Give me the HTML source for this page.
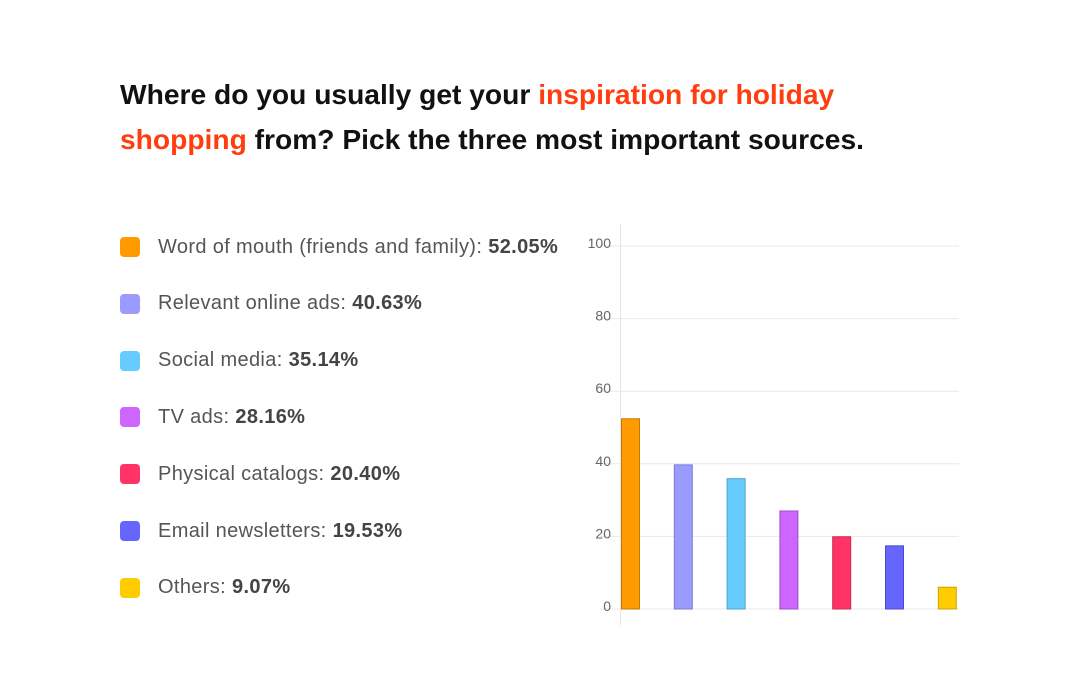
<!DOCTYPE html>
<html><head><meta charset="utf-8"><style>
body{margin:0;width:1080px;height:695px;background:#fff;overflow:hidden;font-family:"Liberation Sans",sans-serif;position:relative}
.title{position:absolute;left:120px;top:72px;font-size:28.2px;font-weight:bold;line-height:45px;color:#111;letter-spacing:0px;white-space:nowrap}
.title .hl{color:#ff3d0f}
.leg{position:absolute;left:120px;height:24px;display:flex;align-items:center;font-size:20px;letter-spacing:0.35px;color:#555;white-space:nowrap}
.sw{width:20px;height:20px;border-radius:4px;margin-right:18px}
.leg b{color:#444;margin-left:6px}
</style></head><body>
<div class="title">Where do you usually get your <span class="hl">inspiration for holiday</span><br><span class="hl">shopping</span> from? Pick the three most important sources.</div>
<div id="legend"></div>
<svg id="chart" width="1080" height="695" style="position:absolute;left:0;top:0"></svg>
<script>
const categories=["Word of mouth (friends and family):","Relevant online ads:","Social media:","TV ads:","Physical catalogs:","Email newsletters:","Others:"];
const legendValues=["52.05%","40.63%","35.14%","28.16%","20.40%","19.53%","9.07%"];
const barValues=[52.4,39.7,35.9,27,19.9,17.4,6];
const yTicks=[0,20,40,60,80,100];
const colors=["#ff9a00","#9b9bff","#66ccff","#cc66ff","#ff3366","#6666ff","#ffcc00"];
const strokes=["#c77800","#7b7bd6","#4aa3cc","#a04ccc","#cc2850","#4a4acc","#cca300"];
const NS="http://www.w3.org/2000/svg";
const svg=document.getElementById('chart');
const y=v=>609-v*3.63;
const x=i=>621+i*52.8;
function mk(t,a){const e=document.createElementNS(NS,t);for(const k in a)e.setAttribute(k,a[k]);svg.appendChild(e);return e;}
yTicks.forEach(t=>{
 const g=mk('line',{x1:600,x2:959,y1:y(t),y2:y(t),stroke:'#e8e8e8','stroke-width':1});
 
 
 const l=mk('text',{x:611,y:y(t)+2,'text-anchor':'end','font-size':14,fill:'#666','font-family':'Liberation Sans, sans-serif'});
 l.textContent=t;
 
 
});
const ax=mk('line',{x1:620.5,x2:620.5,y1:224,y2:625,stroke:'#e5e5e5','stroke-width':1});


barValues.forEach((v,i)=>{
 const r=mk('rect',{x:x(i)+0.5,y:y(v),width:18,height:y(0)-y(v),fill:colors[i],stroke:strokes[i],'stroke-width':1});
 
 
});
const lg=document.getElementById('legend');
categories.forEach((c,i)=>{
 const d=document.createElement('div');
 d.className='leg';d.style.top=(235+i*56.8)+'px';
 
 
 d.innerHTML='<div class="sw" style="background:'+colors[i]+'"></div><span>'+c+'</span><b>'+legendValues[i]+'</b>';
 lg.appendChild(d);
});
</script>
</body></html>
